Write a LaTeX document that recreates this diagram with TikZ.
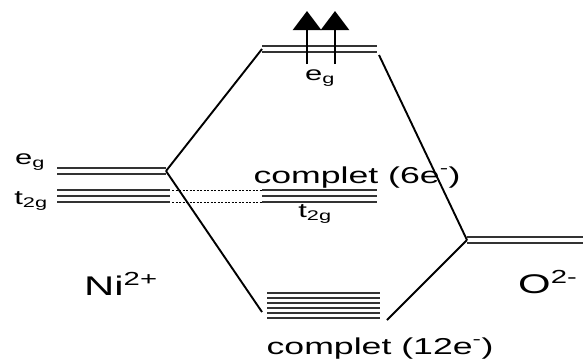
\documentclass[tikz,border=0pt]{standalone}
\usepackage{fontspec}
\setmainfont{Liberation Sans}
\newfontfamily\widesf[FakeStretch=1.55]{Liberation Sans}
\usetikzlibrary{arrows.meta}

\begin{document}
\begin{tikzpicture}[x=1pt, y=-1pt,
    level/.style={line width=2pt, black!80},
    link/.style={line width=1.9pt},
    hop/.style={line width=1pt, dash pattern=on 2pt off 1.5pt},
    spin/.style={line width=2.6pt, -{Triangle[width=28pt, length=19pt]}},
    lab/.style={font=\widesf\fontsize{20}{24}\selectfont, inner sep=0pt},
    big/.style={font=\widesf\fontsize{23}{28}\selectfont, inner sep=0pt},
    ion/.style={font=\widesf\fontsize{27}{32}\selectfont, inner sep=0pt}
]
\useasboundingbox (0,0) rectangle (583,360);

% Ni2+ levels
\foreach \y in {168,174} \draw[level] (57,\y) -- (166,\y);
\foreach \y in {190,196,202} \draw[level] (57,\y) -- (170,\y);
% molecular levels
\foreach \y in {46,52} \draw[level] (262,\y) -- (377,\y);
\foreach \y in {190,196,202} \draw[level] (262,\y) -- (377,\y);
\foreach \y in {293,298,...,318} \draw[level] (267,\y) -- (380,\y);
% O2- levels
\foreach \y in {237,243} \draw[level] (467,\y) -- (583,\y);

\coordinate (ni) at (166,171);
\coordinate (egTop) at (262,49);
\coordinate (egTopR) at (379,55);
\coordinate (ox) at (467,240);
\coordinate (bondL) at (262,312);
\coordinate (bondR) at (387,320);
\coordinate (niT1) at (172,190);
\coordinate (niT3) at (172,202);
\coordinate (t2gA) at (262,190);
\coordinate (t2gC) at (262,202);
\coordinate (spinA) at (307,64);
\coordinate (spinAtip) at (307,11);
\coordinate (spinB) at (335,64);
\coordinate (spinBtip) at (335,11);

\draw[link] (ni) -- (egTop);
\draw[link] (ni) -- (bondL);
\draw[link] (egTopR) -- (ox);
\draw[link] (ox) -- (bondR);
\draw[hop] (niT1) -- (t2gA);
\draw[hop] (niT3) -- (t2gC);

\draw[spin] (spinA) -- (spinAtip);
\draw[spin] (spinB) -- (spinBtip);

\node[lab] (egNi) at (30,162) {e\textsubscript{g}};
\node[lab] (t2gNi) at (31,201) {t\textsubscript{2g}};
\node[lab] (egMo) at (320,78) {e\textsubscript{g}};
\node[lab] (t2gMo) at (315,214) {t\textsubscript{2g}};
\node[big, anchor=base] (six) at (357,183) {complet (6e\textsuperscript{-})};
\node[big, anchor=base] (twelve) at (380,354) {complet (12e\textsuperscript{-})};
\node[ion, anchor=base west] (nilab) at (84,295) {Ni\textsuperscript{2+}};
\node[ion, anchor=base west] (olab) at (518,293) {O\textsuperscript{2-}};
\end{tikzpicture}
\end{document}
